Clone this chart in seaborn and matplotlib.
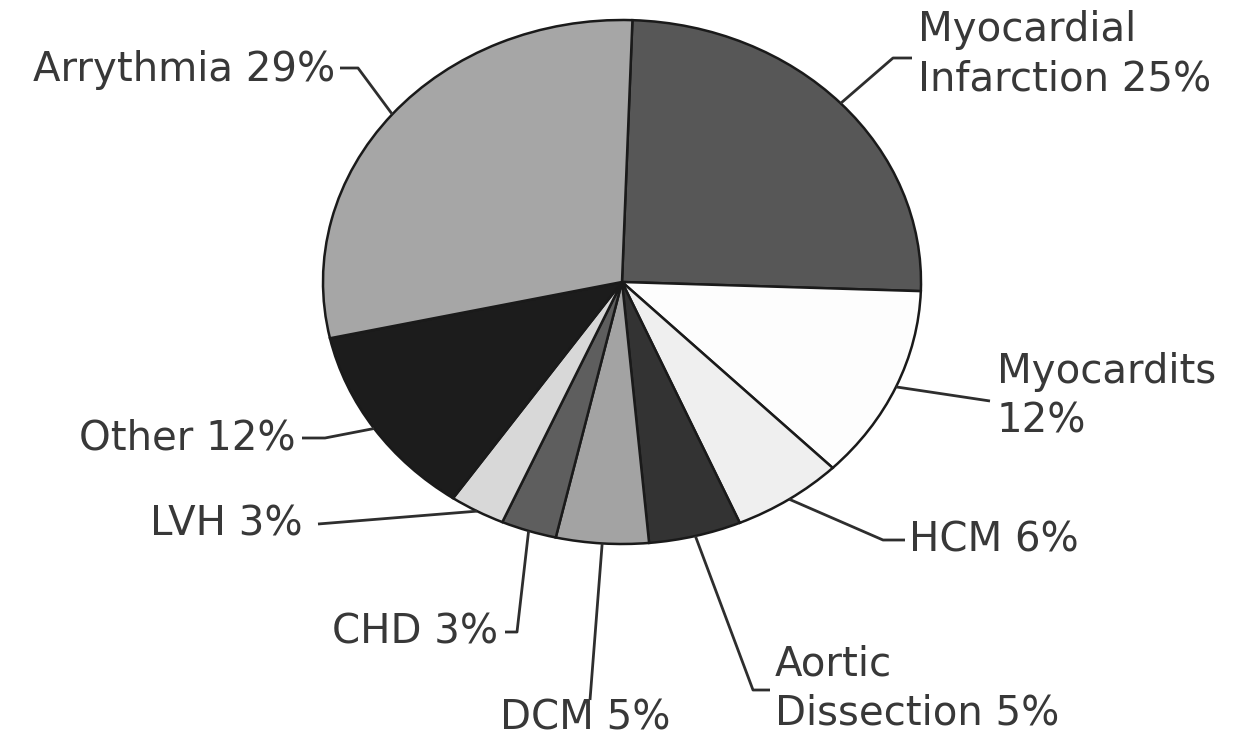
import numpy as np
import matplotlib
matplotlib.use("Agg")
import matplotlib.pyplot as plt
import seaborn as sns

categories = ["Myocardial\nInfarction", "Myocardits", "HCM", "Aortic\nDissection",
              "DCM", "CHD", "LVH", "Other", "Arrythmia"]
values = [25, 12, 6, 5, 5, 3, 3, 12, 29]
label_texts = ["Myocardial\nInfarction 25%", "Myocardits\n12%", "HCM 6%",
               "Aortic\nDissection 5%", "DCM 5%", "CHD 3%", "LVH 3%",
               "Other 12%", "Arrythmia 29%"]
colors = ["#575757", "#fdfdfd", "#efefef", "#333333", "#a3a3a3",
          "#5e5e5e", "#d8d8d8", "#1c1c1c", "#a6a6a6"]

sns.set_theme(style="white")
plt.rcParams["font.family"] = ["DejaVu Sans"]

W, H = 1242, 742
fig = plt.figure(figsize=(W / 100, H / 100), dpi=100)
ax = fig.add_axes([0, 0, 1, 1])

CX, CY, RX, RY = 622, 282, 299, 262  # pixel geometry of pie ellipse


def px(x, y):
    return ((x - CX) / RX, (CY - y) / RY)


wedges, _ = ax.pie(values, colors=colors, startangle=88, counterclock=False,
                   radius=1.0, center=(0, 0),
                   wedgeprops=dict(edgecolor="#1a1a1a", linewidth=1.8))
ax.set_aspect("auto")
x0, _ = px(0, 0)
x1, _ = px(W, 0)
_, y0 = px(0, H)
_, y1 = px(0, 0)
ax.set_xlim(x0, x1)
ax.set_ylim(y0, y1)
ax.axis("off")

# layout for labels: (elbow points in px, text anchor px, ha)
layout = [
    ([(893, 58), (912, 58)], (918, 55), "left"),
    ([(990, 401)], (997, 397), "left"),
    ([(883, 540), (905, 540)], (909, 540), "left"),
    ([(753, 690), (770, 690)], (775, 689), "left"),
    ([(590, 700)], (585, 719), "center"),
    ([(517, 632), (505, 632)], (498, 632), "right"),
    ([(318, 524)], (303, 524), "right"),
    ([(325, 438), (302, 438)], (296, 438), "right"),
    ([(358, 68), (340, 68)], (335, 70), "right"),
]

for w, txt, (elbows, tpos, ha) in zip(wedges, label_texts, layout):
    mid = np.deg2rad((w.theta1 + w.theta2) / 2)
    ax_pt = (np.cos(mid), np.sin(mid))
    pts = [ax_pt] + [px(*e) for e in elbows]
    xs, ys = zip(*pts)
    ax.plot(xs, ys, color="#2e2e2e", lw=2.0, solid_capstyle="butt")
    tx, ty = px(*tpos)
    ax.text(tx, ty, txt, ha=ha, va="center", fontsize=29, color="#383838",
            linespacing=1.3)

fig.savefig("out.png", dpi=100, facecolor="white")
